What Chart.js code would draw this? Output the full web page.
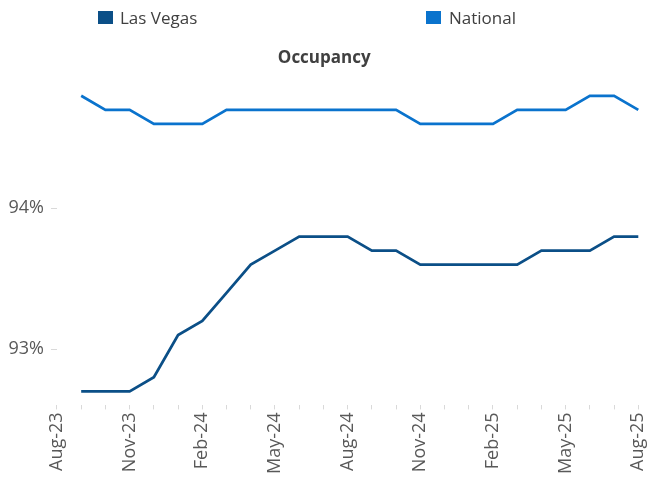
<!DOCTYPE html>
<html>
<head>
<meta charset="utf-8">
<script src="https://cdn.jsdelivr.net/npm/chart.js@4"></script>
<style>
  body { margin: 0; background: #fff; }
  #wrap { position: relative; width: 647px; height: 480px; }
  #leyenda span { position: absolute; font-family: "Open Sans"; font-size: 17px; color: #404040; line-height: 20px; }
  #leyenda i { position: absolute; width: 15px; height: 13px; }
</style>
</head>
<body>
<div id="wrap">
  <canvas id="myChart" width="647" height="480"></canvas>
  <div id="leyenda">
    <i style="left:98px; top:11px; background:#0b4f87"></i>
    <span style="left:120px; top:8px">Las Vegas</span>
    <i style="left:426px; top:11px; background:#0a73cd"></i>
    <span style="left:449px; top:8px">National</span>
  </div>
</div>
<script>
const meses = ['Aug-23', 'Sep-23', 'Oct-23', 'Nov-23', 'Dec-23', 'Jan-24', 'Feb-24', 'Mar-24', 'Apr-24',
  'May-24', 'Jun-24', 'Jul-24', 'Aug-24', 'Sep-24', 'Oct-24', 'Nov-24', 'Dec-24', 'Jan-25', 'Feb-25',
  'Mar-25', 'Apr-25', 'May-25', 'Jun-25', 'Jul-25', 'Aug-25']
const lasVegas = [null, 92.7, 92.7, 92.7, 92.8, 93.1, 93.2, 93.4, 93.6, 93.7, 93.8, 93.8, 93.8,
  93.7, 93.7, 93.6, 93.6, 93.6, 93.6, 93.6, 93.7, 93.7, 93.7, 93.8, 93.8]
const nacional = [null, 94.8, 94.7, 94.7, 94.6, 94.6, 94.6, 94.7, 94.7, 94.7, 94.7, 94.7, 94.7,
  94.7, 94.7, 94.6, 94.6, 94.6, 94.6, 94.7, 94.7, 94.7, 94.8, 94.8, 94.7]
const yTicks = [93, 94]

let myChart

function grafico() {
  const ctx = document.getElementById('myChart').getContext('2d')
  myChart = new Chart(ctx, {
    type: 'line',
    data: {
      labels: meses,
      datasets: [{
        label: 'Las Vegas',
        data: lasVegas,
        borderColor: '#0b4f87',
        backgroundColor: '#0b4f87',
        borderWidth: 2.75,
        pointRadius: 0,
        tension: 0
      }, {
        label: 'National',
        data: nacional,
        borderColor: '#0a73cd',
        backgroundColor: '#0a73cd',
        borderWidth: 2.75,
        pointRadius: 0,
        tension: 0
      }]
    },
    options: {
      responsive: false,
      animation: false,
      layout: {
        padding: { top: 42, left: 1.5, right: 0, bottom: 3 }
      },
      plugins: {
        legend: { display: false },
        tooltip: { enabled: false },
        title: {
          display: true,
          text: 'Occupancy',
          color: '#404040',
          padding: { top: 6, bottom: 13.3 },
          font: { family: 'Open Sans', size: 17, weight: 'bold' }
        }
      },
      scales: {
        x: {
          offset: false,
          border: { display: false },
          afterFit: function (eje) { eje.paddingRight = 8.7 },
          grid: {
            display: true,
            drawOnChartArea: false,
            drawTicks: true,
            tickLength: 4,
            color: '#d9d9d9'
          },
          ticks: {
            autoSkip: false,
            maxRotation: 90,
            minRotation: 90,
            padding: 3,
            color: '#595959',
            font: { family: 'Open Sans', size: 18 },
            callback: function (valor, i) { return i % 3 === 0 ? meses[i] : '' }
          }
        },
        y: {
          min: 92.6,
          max: 94.9,
          border: { display: false },
          afterBuildTicks: function (eje) { eje.ticks = yTicks.map(v => ({ value: v })) },
          grid: {
            display: true,
            drawOnChartArea: false,
            drawTicks: true,
            tickLength: 6,
            color: '#d9d9d9'
          },
          ticks: {
            padding: 7,
            color: '#595959',
            font: { family: 'Open Sans', size: 18 },
            callback: function (valor) { return valor + '%' }
          }
        }
      }
    }
  })
}

window.onload = function () {
  grafico()
}
</script>
</body>
</html>
